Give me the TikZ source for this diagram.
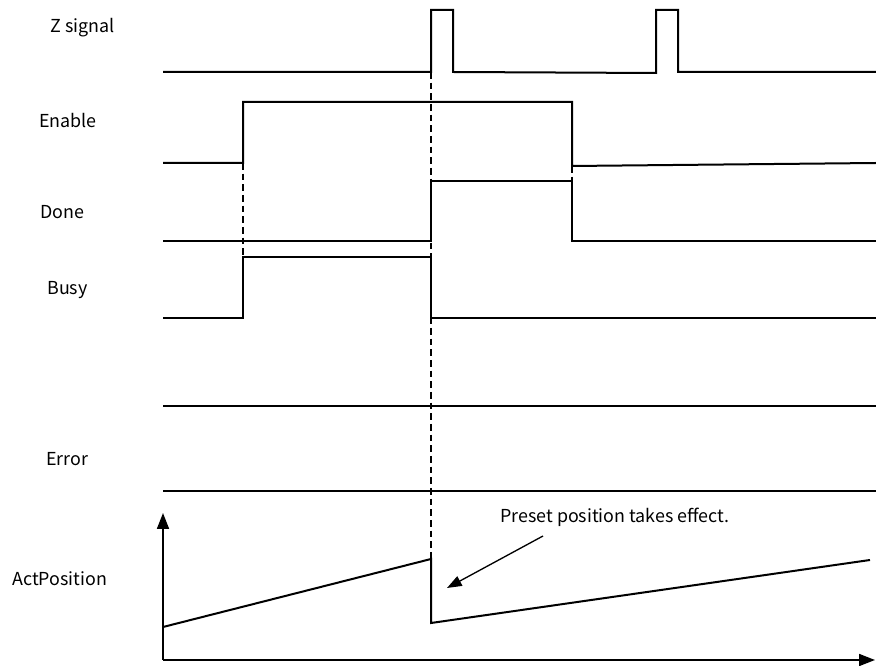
\documentclass[tikz,border=0pt]{standalone}
\usepackage{fontspec}
\setmainfont{Noto Sans CJK SC}
\usetikzlibrary{arrows.meta}
\begin{document}
\begin{tikzpicture}[x=0.75pt,y=-0.75pt,
  wave/.style={line width=1.5pt,line join=miter},
  guide/.style={line width=1pt,dashed,dash pattern=on 5pt off 3pt},
  lbl/.style={anchor=west,inner sep=0pt,font=\fontsize{13.4pt}{15pt}\selectfont},
  axis/.style={line width=1.3pt,-{Triangle[length=12pt,width=9pt]}},
  pointer/.style={line width=1pt,-{Triangle[length=11pt,width=8pt]}}]
\useasboundingbox (0,0) rectangle (876,666);
% labels
\node[lbl] (lz) at (50,28) {Z signal};
\node[lbl] (le) at (39,121) {Enable};
\node[lbl] (ld) at (40,212) {Done};
\node[lbl] (lb) at (47,290) {Busy};
\node[lbl] (lr) at (46,459) {Error};
\node[lbl] (la) at (12,579) {ActPosition};
% guide lines
\draw[guide] (243,163) -- (243,257);
\draw[guide] (431,72) -- (431,559);
\draw[guide] (572,166) -- (572,181);
% Z signal
\draw[wave] (163,72) -- (431,72) -- (431,10) -- (453,10) -- (453,72) -- (656,73) -- (656,10) -- (678,10) -- (678,72) -- (876,72);
% Enable
\draw[wave] (163,163) -- (243,163) -- (243,102) -- (572,102) -- (572,166) -- (876,163);
% Done
\draw[wave] (163,241) -- (431,241) -- (431,181) -- (572,181) -- (572,241) -- (876,241);
% Busy
\draw[wave] (163,318) -- (243,318) -- (243,257) -- (431,257) -- (431,318) -- (876,318);
% separator and Error
\draw[wave] (163,406) -- (876,406);
\draw[wave] (163,491) -- (876,491);
% ActPosition axes
\coordinate (o) at (163,660);
\coordinate (ytip) at (163,513);
\coordinate (xtip) at (875,660);
\draw[axis] (o) -- (ytip);
\draw[axis] (o) -- (xtip);
\draw[wave] (163,627) -- (431,559) -- (431,623) -- (870,560);
% annotation
\node[lbl] (note) at (500,517) {Preset position takes effect.};
\coordinate (ps) at (543,536);
\coordinate (pe) at (447,588);
\draw[pointer] (ps) -- (pe);
\end{tikzpicture}
\end{document}
